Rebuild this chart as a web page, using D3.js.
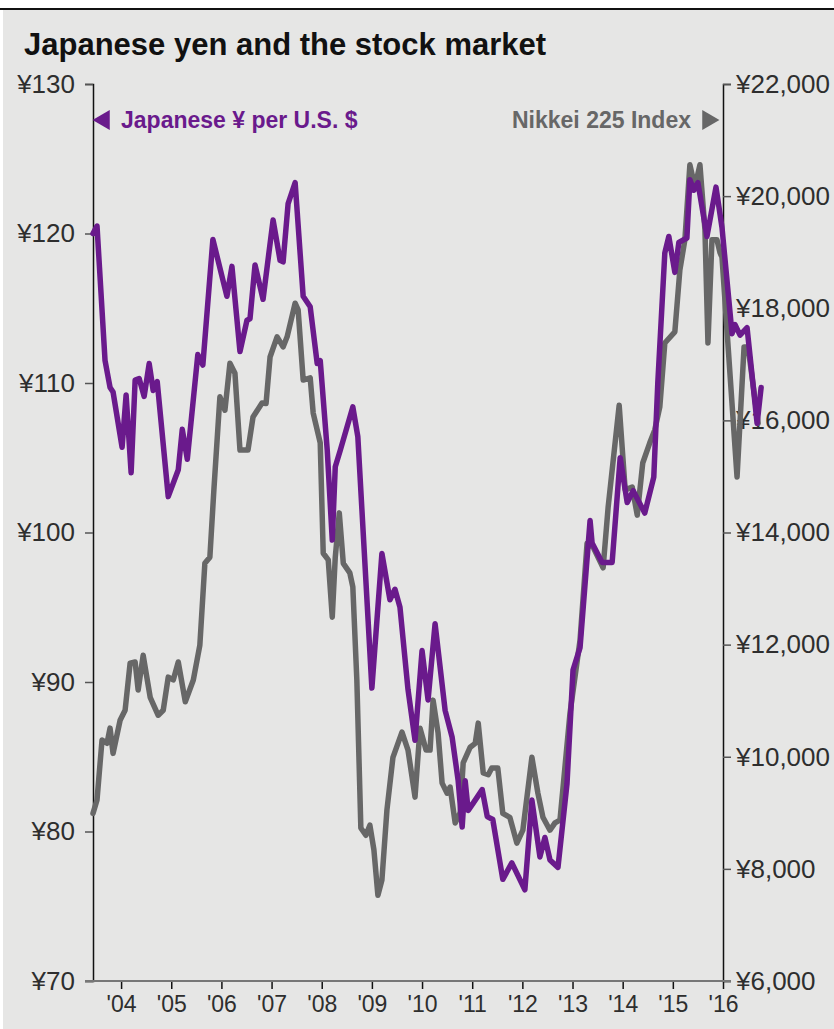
<!DOCTYPE html>
<html>
<head>
<meta charset="utf-8">
<script src="https://cdn.jsdelivr.net/npm/d3@7"></script>
<style>
  html, body { margin: 0; padding: 0; background: #ffffff; }
  svg { display: block; }
  text { font-family: "Liberation Sans", Arial, Helvetica, sans-serif; }
</style>
</head>
<body>
<svg id="chart" width="834" height="1029"></svg>
<script>
// ---------------- DATA ----------------
const chartTitle = "Japanese yen and the stock market";
const yenLabel = "Japanese ¥ per U.S. $";
const nikkeiLabel = "Nikkei 225 Index";

const yearTicks = [2004, 2005, 2006, 2007, 2008, 2009, 2010, 2011, 2012, 2013, 2014, 2015, 2016];
const yearTickLabels = ["'04", "'05", "'06", "'07", "'08", "'09", "'10", "'11", "'12", "'13", "'14", "'15", "'16"];
const yenTicks = [70, 80, 90, 100, 110, 120, 130];
const yenTickLabels = ["¥70", "¥80", "¥90", "¥100", "¥110", "¥120", "¥130"];
const nikkeiTicks = [6000, 8000, 10000, 12000, 14000, 16000, 18000, 20000, 22000];
const nikkeiTickLabels = ["¥6,000", "¥8,000", "¥10,000", "¥12,000", "¥14,000", "¥16,000", "¥18,000", "¥20,000", "¥22,000"];

// Japanese yen per U.S. dollar: [decimal year, value]
const yenSeries = [
  [2003.44, 120.0], [2003.52, 120.5], [2003.68, 111.5], [2003.78, 109.7], [2003.84, 109.4],
  [2004.02, 105.7], [2004.10, 109.2], [2004.20, 104.0], [2004.28, 110.2], [2004.36, 110.3],
  [2004.46, 109.1], [2004.56, 111.3], [2004.64, 109.5], [2004.72, 110.1], [2004.94, 102.4],
  [2005.14, 104.2], [2005.22, 106.9], [2005.32, 104.9], [2005.53, 111.9], [2005.63, 111.2],
  [2005.83, 119.6], [2006.11, 115.8], [2006.21, 117.8], [2006.37, 112.1], [2006.51, 114.2],
  [2006.57, 114.3], [2006.67, 117.9], [2006.83, 115.6], [2007.03, 120.9], [2007.17, 118.2],
  [2007.23, 118.1], [2007.33, 122.0], [2007.47, 123.4], [2007.63, 115.8], [2007.77, 115.1],
  [2007.91, 111.3], [2007.97, 111.5], [2008.11, 105.5], [2008.21, 99.5], [2008.27, 104.4],
  [2008.37, 105.5], [2008.62, 108.4], [2008.72, 106.4], [2009.00, 89.6], [2009.20, 98.6],
  [2009.36, 95.5], [2009.46, 96.2], [2009.56, 95.0], [2009.72, 89.5], [2009.86, 86.1],
  [2010.00, 92.1], [2010.12, 88.8], [2010.26, 93.9], [2010.46, 88.1], [2010.60, 86.3],
  [2010.72, 83.4], [2010.80, 80.3], [2010.86, 83.4], [2010.92, 81.4], [2011.02, 81.9],
  [2011.20, 82.8], [2011.30, 81.0], [2011.41, 80.8], [2011.61, 76.8], [2011.79, 77.9],
  [2012.05, 76.1], [2012.19, 82.1], [2012.35, 78.3], [2012.45, 79.6], [2012.55, 78.1],
  [2012.71, 77.6], [2012.89, 83.2], [2013.01, 90.8], [2013.15, 92.3], [2013.35, 100.8],
  [2013.39, 99.3], [2013.59, 98.0], [2013.79, 98.0], [2013.95, 105.0], [2014.09, 102.0],
  [2014.21, 102.8], [2014.44, 101.3], [2014.62, 103.7], [2014.70, 110.0], [2014.84, 118.7],
  [2014.92, 119.8], [2015.04, 117.4], [2015.12, 119.4], [2015.28, 119.7], [2015.34, 123.6],
  [2015.42, 122.9], [2015.50, 123.4], [2015.68, 119.8], [2015.86, 123.1], [2015.98, 120.4],
  [2016.18, 113.3], [2016.24, 113.9], [2016.34, 113.2], [2016.48, 113.7], [2016.68, 107.3],
  [2016.76, 109.7]
];

// Nikkei 225 Index: [decimal year, value]
const nikkeiSeries = [
  [2003.44, 8990], [2003.52, 9230], [2003.62, 10300], [2003.72, 10240], [2003.78, 10510],
  [2003.84, 10060], [2003.98, 10650], [2004.08, 10830], [2004.18, 11670], [2004.28, 11690],
  [2004.34, 11190], [2004.44, 11810], [2004.58, 11060], [2004.74, 10740], [2004.84, 10830],
  [2004.94, 11420], [2005.04, 11370], [2005.14, 11690], [2005.28, 10980], [2005.44, 11370],
  [2005.57, 11990], [2005.67, 13450], [2005.77, 13560], [2005.85, 14760], [2005.97, 16420],
  [2006.07, 16180], [2006.17, 17020], [2006.27, 16840], [2006.37, 15470], [2006.53, 15470],
  [2006.63, 16060], [2006.81, 16310], [2006.89, 16300], [2006.97, 17130], [2007.11, 17490],
  [2007.23, 17310], [2007.31, 17490], [2007.47, 18090], [2007.53, 17970], [2007.63, 16720],
  [2007.77, 16760], [2007.83, 16130], [2007.97, 15600], [2008.03, 13630], [2008.13, 13510],
  [2008.21, 12490], [2008.27, 13560], [2008.35, 14350], [2008.43, 13450], [2008.56, 13280],
  [2008.62, 13030], [2008.70, 11370], [2008.78, 8730], [2008.88, 8600], [2008.96, 8780],
  [2009.04, 8340], [2009.12, 7530], [2009.20, 7800], [2009.30, 9050], [2009.42, 9990],
  [2009.60, 10440], [2009.72, 10120], [2009.86, 9280], [2009.96, 10510], [2010.08, 10120],
  [2010.16, 10120], [2010.22, 11010], [2010.32, 10420], [2010.40, 9530], [2010.50, 9350],
  [2010.56, 9460], [2010.66, 8820], [2010.76, 9000], [2010.82, 9890], [2010.96, 10170],
  [2011.06, 10240], [2011.12, 10600], [2011.22, 9710], [2011.32, 9680], [2011.39, 9800],
  [2011.51, 9800], [2011.61, 8990], [2011.75, 8920], [2011.89, 8460], [2012.01, 8690],
  [2012.19, 9990], [2012.31, 9350], [2012.41, 8920], [2012.55, 8690], [2012.65, 8820],
  [2012.75, 8870], [2012.95, 10780], [2013.15, 12080], [2013.29, 13810], [2013.41, 13740],
  [2013.61, 13370], [2013.71, 14450], [2013.93, 16270], [2014.05, 14760], [2014.19, 14810],
  [2014.29, 14310], [2014.40, 15240], [2014.54, 15600], [2014.64, 15830], [2014.74, 16240],
  [2014.84, 17380], [2015.04, 17580], [2015.14, 18680], [2015.24, 19220], [2015.34, 20560],
  [2015.44, 20160], [2015.54, 20560], [2015.64, 19400], [2015.70, 17380], [2015.78, 19220],
  [2015.88, 19220], [2015.94, 18990], [2015.98, 18910], [2016.28, 14990], [2016.42, 17310],
  [2016.50, 17310], [2016.70, 15950]
];

// ---------------- CHART ----------------
const W = 834, H = 1029;
const svg = d3.select("#chart");
const purple = "#6a1a8c";
const grey = "#676767";
const labelColor = "#2e2e2e";
const fontFam = "Liberation Sans, Arial, sans-serif";

// page frame
svg.append("rect").attr("x", 0).attr("y", 0).attr("width", W).attr("height", H).attr("fill", "#ffffff");
svg.append("rect").attr("x", 3).attr("y", 10).attr("width", W - 3).attr("height", H - 10).attr("fill", "#e6e6e5");
svg.append("line").attr("x1", 0).attr("x2", W).attr("y1", 9).attr("y2", 9).attr("stroke", "#111").attr("stroke-width", 2);

const x = d3.scaleLinear().domain([2003.44, 2016]).range([93, 723]);
const yYen = d3.scaleLinear().domain([70, 130]).range([981, 84]);
const yNik = d3.scaleLinear().domain([6000, 22000]).range([981, 84]);

// title
svg.append("text").attr("x", 24).attr("y", 55)
  .attr("font-size", 31).attr("font-weight", "bold").attr("fill", "#111")
  .text(chartTitle);

// left axis
const leftAxis = d3.axisLeft(yYen).tickValues(yenTicks).tickSize(8).tickPadding(10)
  .tickFormat((d, i) => yenTickLabels[i]);
const gL = svg.append("g").attr("transform", "translate(93,0)").call(leftAxis);
gL.select(".domain").attr("stroke", "#111").attr("stroke-width", 1.5);
gL.selectAll(".tick line").attr("stroke", "#555").attr("stroke-width", 1.5);
gL.selectAll(".tick text").attr("font-size", 26).attr("fill", labelColor).attr("font-family", fontFam);

// right axis
const rightAxis = d3.axisRight(yNik).tickValues(nikkeiTicks).tickSize(8).tickPadding(5)
  .tickFormat((d, i) => nikkeiTickLabels[i]);
const gR = svg.append("g").attr("transform", "translate(723,0)").call(rightAxis);
gR.select(".domain").attr("stroke", "#111").attr("stroke-width", 1.5);
gR.selectAll(".tick line").attr("stroke", "#555").attr("stroke-width", 1.5);
gR.selectAll(".tick text").attr("font-size", 26).attr("fill", labelColor).attr("font-family", fontFam);

// bottom axis
const bottomAxis = d3.axisBottom(x).tickValues(yearTicks).tickSize(8).tickPadding(7)
  .tickSizeOuter(0)
  .tickFormat((d, i) => yearTickLabels[i]);
const gB = svg.append("g").attr("transform", "translate(0,981)").call(bottomAxis);
gB.select(".domain").remove();
gB.selectAll(".tick line").attr("stroke", "#111").attr("stroke-width", 1.5);
gB.selectAll(".tick text").attr("font-size", 23).attr("fill", labelColor).attr("font-family", fontFam);
svg.append("line").attr("x1", 85).attr("x2", 731).attr("y1", 981).attr("y2", 981)
  .attr("stroke", "#777").attr("stroke-width", 2);

// legend
svg.append("path").attr("d", d3.symbol().type(d3.symbolTriangle).size(170)())
  .attr("transform", "translate(104,120) rotate(-90)").attr("fill", purple);
svg.append("text").attr("x", 121).attr("y", 128).attr("font-size", 23).attr("font-weight", "bold")
  .attr("fill", purple).text(yenLabel);
svg.append("path").attr("d", d3.symbol().type(d3.symbolTriangle).size(170)())
  .attr("transform", "translate(708,120) rotate(90)").attr("fill", grey);
svg.append("text").attr("x", 691).attr("y", 128).attr("font-size", 23).attr("font-weight", "bold")
  .attr("text-anchor", "end").attr("fill", grey).text(nikkeiLabel);

// lines
const lineNik = d3.line().x(d => x(d[0])).y(d => yNik(d[1]));
const lineYen = d3.line().x(d => x(d[0])).y(d => yYen(d[1]));
svg.append("path").datum(nikkeiSeries).attr("d", lineNik)
  .attr("fill", "none").attr("stroke", grey).attr("stroke-width", 5.5)
  .attr("stroke-linejoin", "round").attr("stroke-linecap", "round");
svg.append("path").datum(yenSeries).attr("d", lineYen)
  .attr("fill", "none").attr("stroke", purple).attr("stroke-width", 5.5)
  .attr("stroke-linejoin", "round").attr("stroke-linecap", "round");
</script>
</body>
</html>
